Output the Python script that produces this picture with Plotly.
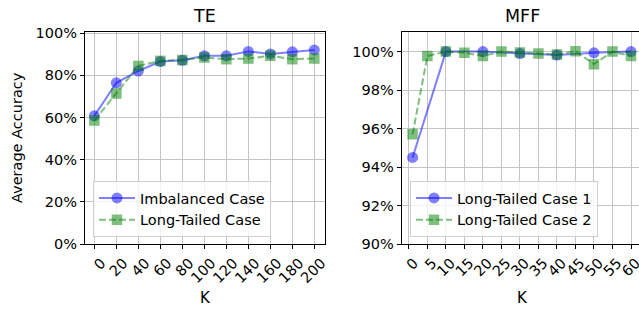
import plotly.graph_objects as go

# ---- data ----
te_k = [0, 20, 40, 60, 80, 100, 120, 140, 160, 180, 200]
te_imbalanced = [60.8, 76.5, 82.1, 86.6, 87.2, 89.3, 89.3, 91.4, 90.2, 91.2, 92.0]
te_longtailed = [58.6, 71.4, 84.5, 86.9, 87.3, 88.5, 87.7, 88.0, 89.3, 87.7, 88.0]

mff_k1 = [1, 10, 20, 30, 40, 50, 60]
mff_case1 = [94.5, 100.0, 100.0, 99.9, 99.82, 99.94, 100.0]
mff_k2 = [1, 5, 10, 15, 20, 25, 30, 35, 40, 45, 50, 55, 60]
mff_case2 = [95.7, 99.77, 100.0, 99.94, 99.77, 100.0, 99.96, 99.9, 99.85, 100.02, 99.35, 100.0, 99.77]

te_xticks = list(range(0, 201, 20))
te_yticks = [0, 20, 40, 60, 80, 100]
mff_xticks = list(range(0, 61, 5))
mff_yticks = [90, 92, 94, 96, 98, 100]

W, H = 639, 310
FONT = "DejaVu Sans"
BLUE_L = "rgba(0,0,255,0.5)"
GREEN_L = "rgba(0,128,0,0.5)"

fig = go.Figure()

fig.add_trace(go.Scatter(
    x=te_k, y=te_imbalanced, mode="lines+markers", name="Imbalanced Case",
    line=dict(color=BLUE_L, width=2),
    marker=dict(symbol="circle", size=11, color=BLUE_L, line=dict(width=0)),
    xaxis="x", yaxis="y", legend="legend"))
fig.add_trace(go.Scatter(
    x=te_k, y=te_longtailed, mode="lines+markers", name="Long-Tailed Case",
    line=dict(color=GREEN_L, width=2, dash="7px,3px"),
    marker=dict(symbol="square", size=10.5, color=GREEN_L, line=dict(width=0)),
    xaxis="x", yaxis="y", legend="legend"))
fig.add_trace(go.Scatter(
    x=mff_k1, y=mff_case1, mode="lines+markers", name="Long-Tailed Case 1",
    line=dict(color=BLUE_L, width=2),
    marker=dict(symbol="circle", size=11, color=BLUE_L, line=dict(width=0)),
    xaxis="x2", yaxis="y2", legend="legend2"))
fig.add_trace(go.Scatter(
    x=mff_k2, y=mff_case2, mode="lines+markers", name="Long-Tailed Case 2",
    line=dict(color=GREEN_L, width=2, dash="7px,3px"),
    marker=dict(symbol="square", size=10.5, color=GREEN_L, line=dict(width=0)),
    xaxis="x2", yaxis="y2", legend="legend2"))

ax_common = dict(
    showline=True, linecolor="black", linewidth=1.1,
    ticks="outside", ticklen=4, tickwidth=1.1, tickcolor="black",
    showgrid=True, gridcolor="#c4c4c4", gridwidth=1, automargin=False,
    zeroline=False, tickfont=dict(family=FONT, size=14.5, color="black"),
    ticklabeloverflow="allow",
)

ybot = (H - 244) / H
ytop = (H - 32) / H

legend_common = dict(
    xanchor="left", yanchor="bottom", bgcolor="rgba(255,255,255,0.8)",
    bordercolor="#d0d0d0", borderwidth=1, font=dict(family=FONT, size=14.5),
    itemwidth=36,
)

fig.update_layout(
    width=W, height=H,
    margin=dict(l=0, r=0, t=0, b=0, autoexpand=False),
    paper_bgcolor="white", plot_bgcolor="white",
    font=dict(family=FONT, size=14.5, color="black"),
    xaxis=dict(ax_common, domain=[85 / W, 325 / W], range=[-8.5, 209.7],
               tickmode="array", tickvals=te_xticks, ticktext=[str(v) for v in te_xticks],
               tickangle=-45, mirror=True, anchor="y", ticklabelshift=7),
    yaxis=dict(ax_common, domain=[ybot, ytop], range=[0, 100.6],
               tickmode="array", tickvals=te_yticks, ticktext=[f"{v}%" for v in te_yticks],
               mirror=True, anchor="x"),
    xaxis2=dict(ax_common, domain=[401.7 / W, 1.0], range=[-1.94, 62.16],
                tickmode="array", tickvals=mff_xticks, ticktext=[str(v) for v in mff_xticks],
                tickangle=-45, mirror=True, anchor="y2", ticklabelshift=5),
    yaxis2=dict(ax_common, domain=[ybot, ytop], range=[90, 101.02],
                tickmode="array", tickvals=mff_yticks, ticktext=[f"{v}%" for v in mff_yticks],
                mirror=False, anchor="x2"),
    legend=dict(legend_common, x=93 / W, y=(H - 237) / H),
    legend2=dict(legend_common, x=410 / W, y=(H - 237) / H),
    annotations=[
        dict(text="TE", x=204.5 / W, y=(H - 15.5) / H, xref="paper", yref="paper",
             showarrow=False, font=dict(family=FONT, size=17.5), xanchor="center", yanchor="middle"),
        dict(text="MFF", x=522.8 / W, y=(H - 15.5) / H, xref="paper", yref="paper",
             showarrow=False, font=dict(family=FONT, size=17.5), xanchor="center", yanchor="middle"),
        dict(text="K", x=205 / W, y=(H - 298) / H, xref="paper", yref="paper",
             showarrow=False, font=dict(family=FONT, size=15), xanchor="center", yanchor="middle"),
        dict(text="K", x=522 / W, y=(H - 298) / H, xref="paper", yref="paper",
             showarrow=False, font=dict(family=FONT, size=15), xanchor="center", yanchor="middle"),
        dict(text="Average Accuracy", x=17 / W, y=(H - 138) / H, xref="paper", yref="paper",
             showarrow=False, textangle=-90, font=dict(family=FONT, size=14.5),
             xanchor="center", yanchor="middle"),
    ],
)

fig.write_html(
    "out.html",
    config={"displayModeBar": False},
    post_script="document.body.style.margin='0';document.body.style.overflow='hidden';",
)
